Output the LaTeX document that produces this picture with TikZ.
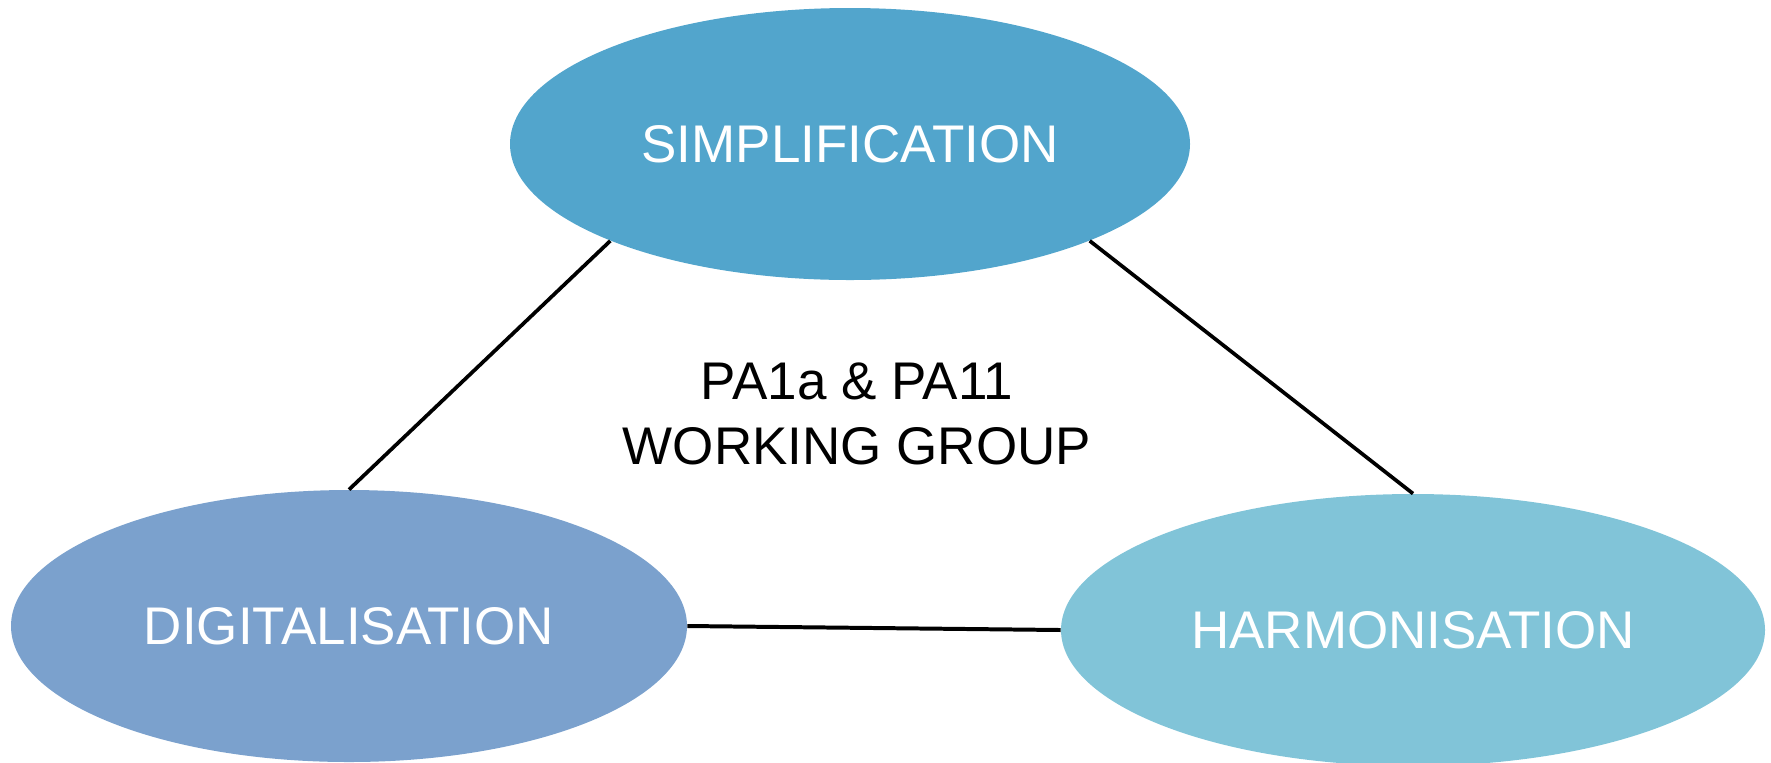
\documentclass[tikz,border=0pt]{standalone}
\usepackage{fontspec}
\setmainfont{Liberation Sans}
\usetikzlibrary{shapes.geometric}
\definecolor{simpblue}{RGB}{82,165,204}
\definecolor{digiblue}{RGB}{123,161,205}
\definecolor{harmblue}{RGB}{129,196,216}
\def\bigtext{\fontsize{26.5}{32.5}\selectfont}

\begin{document}
\begin{tikzpicture}[x=0.5pt, y=-0.5pt,
		bubble/.style={ellipse, inner sep=0pt, minimum height=136pt, text=white, font=\bigtext},
		link/.style={line width=0.65mm, color=black}]
		%%%%% START %%%%%
		
		\useasboundingbox (0, 0) rectangle (1771, 762);
		
		\node[bubble, fill=simpblue, minimum width=340pt] (simp) at (850, 144) {SIMPLIFICATION};
		\node[bubble, fill=digiblue, minimum width=338pt] (digi) at (349, 626) {DIGITALISATION};
		\node[bubble, fill=harmblue, minimum width=352pt] (harm) at (1413, 630) {HARMONISATION};
		
		\node[align=center, font=\bigtext, inner sep=0pt] (wg) at (857, 414) {PA1a \& PA11\\WORKING GROUP};
		
		\draw[link] (simp.202.6) -- (digi.north);
		\draw[link] (simp.338.3) -- (harm.north);
		\draw[link, line width=0.7mm] (digi.east) -- (harm.west);
		
		%%%%% END %%%%%
	\end{tikzpicture}
\end{document}
